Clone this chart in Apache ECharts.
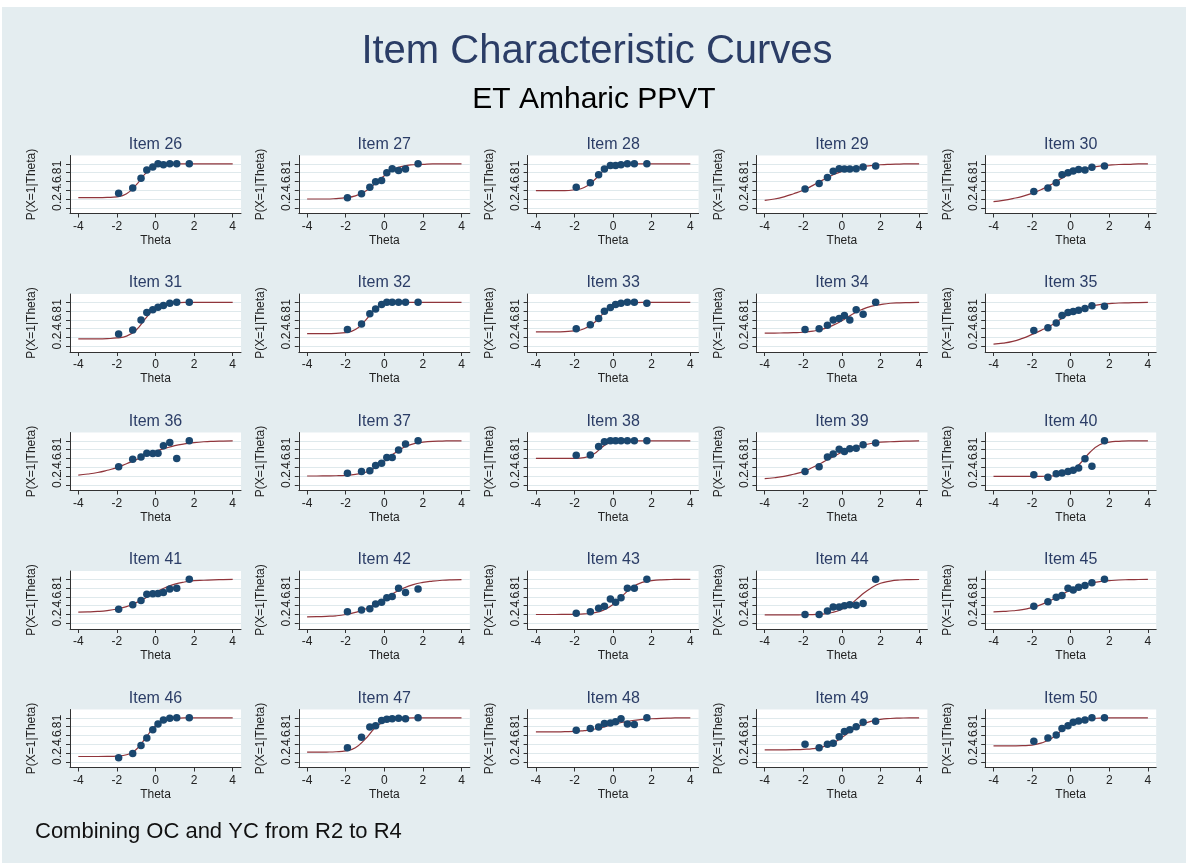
<!DOCTYPE html>
<html>
<head>
<meta charset="utf-8">
<title>Item Characteristic Curves</title>
<script src="https://cdn.jsdelivr.net/npm/echarts@6/dist/echarts.min.js"></script>
<style>
  html, body { margin: 0; padding: 0; background: #fff; }
  #chart { width: 1186px; height: 863px; }
</style>
</head>
<body>
<div id="chart"></div>
<script>
// theta grid for the fitted curves, and the theta group means for the observed points
const thetaGrid = [-4, -3.5, -3, -2.5, -2, -1.5, -1, -0.5, 0, 0.5, 1, 1.5, 2, 2.5, 3, 3.5, 4];
const thetaObs = [-1.91, -1.18, -0.75, -0.45, -0.14, 0.13, 0.41, 0.74, 1.1, 1.75];
const xTicks = [-4, -2, 0, 2, 4];
const yTicks = [0, 0.2, 0.4, 0.6, 0.8, 1];

const icc26 = [0.23,0.23,0.23,0.235,0.25,0.32,0.52,0.79,0.94,0.99,1,1,1,1,1,1,1];
const obs26 = [0.33,0.45,0.67,0.86,0.93,1.0,0.98,1.0,1.0,1.0];
const icc27 = [0.2,0.2,0.2,0.21,0.23,0.27,0.37,0.54,0.73,0.88,0.95,0.98,0.99,1,1,1,1];
const obs27 = [0.23,0.32,0.47,0.59,0.62,0.80,0.89,0.85,0.88,1.0];
const icc28 = [0.39,0.39,0.39,0.39,0.41,0.46,0.62,0.84,0.95,0.99,1,1,1,1,1,1,1];
const obs28 = [0.47,0.57,0.75,0.88,0.96,0.96,0.98,1.0,1.0,1.0];
const icc29 = [0.17,0.20,0.25,0.32,0.40,0.51,0.63,0.74,0.83,0.89,0.93,0.96,0.98,0.99,0.995,1,1];
const obs29 = [0.43,0.55,0.69,0.83,0.89,0.88,0.88,0.89,0.93,0.95];
const icc30 = [0.14,0.17,0.21,0.26,0.33,0.42,0.53,0.66,0.78,0.86,0.91,0.95,0.97,0.985,0.99,1,1];
const obs30 = [0.37,0.45,0.57,0.75,0.80,0.84,0.87,0.86,0.92,0.95];
const icc31 = [0.17,0.17,0.17,0.175,0.19,0.23,0.37,0.64,0.87,0.96,0.99,1,1,1,1,1,1];
const obs31 = [0.28,0.37,0.60,0.77,0.83,0.89,0.93,0.98,1.0,1.0];
const icc32 = [0.29,0.29,0.29,0.295,0.31,0.38,0.58,0.83,0.96,0.99,1,1,1,1,1,1,1];
const obs32 = [0.38,0.51,0.74,0.85,0.95,1.0,1.0,1.0,1.0,1.0];
const icc33 = [0.33,0.33,0.33,0.335,0.35,0.40,0.53,0.75,0.91,0.97,0.99,1,1,1,1,1,1];
const obs33 = [0.40,0.49,0.63,0.80,0.88,0.95,0.98,1.0,1.0,0.98];
const icc34 = [0.30,0.30,0.305,0.31,0.32,0.345,0.39,0.47,0.58,0.72,0.83,0.91,0.95,0.98,0.99,0.995,1];
const obs34 = [0.38,0.40,0.48,0.60,0.63,0.70,0.60,0.83,0.73,1.0];
const icc35 = [0.05,0.07,0.11,0.18,0.27,0.37,0.48,0.62,0.75,0.85,0.91,0.95,0.97,0.985,0.99,0.995,1];
const obs35 = [0.36,0.42,0.53,0.70,0.77,0.79,0.82,0.86,0.92,0.91];
const icc36 = [0.22,0.245,0.28,0.33,0.39,0.48,0.57,0.67,0.76,0.83,0.89,0.93,0.96,0.98,0.99,0.995,1];
const obs36 = [0.41,0.58,0.63,0.72,0.71,0.72,0.89,0.96,0.60,1.0];
const icc37 = [0.2,0.2,0.203,0.206,0.215,0.237,0.28,0.38,0.53,0.71,0.85,0.93,0.97,0.99,0.995,1,1];
const obs37 = [0.26,0.30,0.32,0.44,0.49,0.62,0.62,0.79,0.93,1.0];
const icc38 = [0.6,0.6,0.6,0.6,0.602,0.617,0.70,0.88,0.98,1,1,1,1,1,1,1,1];
const obs38 = [0.67,0.68,0.87,0.98,1.0,1.0,1.0,1.0,1.0,1.0];
const icc39 = [0.14,0.16,0.19,0.24,0.30,0.40,0.51,0.63,0.74,0.83,0.89,0.94,0.97,0.98,0.99,0.995,1];
const obs39 = [0.30,0.41,0.63,0.70,0.81,0.76,0.82,0.83,0.91,0.95];
const icc40 = [0.19,0.19,0.19,0.19,0.19,0.193,0.20,0.22,0.30,0.49,0.74,0.91,0.97,0.99,1,1,1];
const obs40 = [0.23,0.17,0.25,0.27,0.30,0.33,0.38,0.59,0.42,1.0];
const icc41 = [0.256,0.26,0.27,0.29,0.325,0.38,0.47,0.58,0.71,0.81,0.89,0.94,0.97,0.98,0.99,0.995,1];
const obs41 = [0.32,0.42,0.52,0.66,0.67,0.68,0.70,0.78,0.80,1.0];
const icc42 = [0.146,0.15,0.158,0.17,0.20,0.25,0.32,0.43,0.555,0.69,0.80,0.88,0.93,0.96,0.98,0.99,0.994];
const obs42 = [0.26,0.30,0.33,0.44,0.48,0.58,0.61,0.80,0.70,0.78];
const icc43 = [0.2,0.2,0.2,0.202,0.205,0.213,0.237,0.30,0.43,0.63,0.82,0.93,0.97,0.99,0.996,1,1];
const obs43 = [0.23,0.26,0.34,0.39,0.55,0.48,0.58,0.80,0.80,1.0];
const icc44 = [0.19,0.19,0.19,0.191,0.194,0.199,0.21,0.245,0.32,0.45,0.64,0.80,0.91,0.96,0.985,0.994,0.997];
const obs44 = [0.20,0.20,0.28,0.37,0.37,0.40,0.42,0.41,0.45,1.0];
const icc45 = [0.26,0.27,0.285,0.31,0.36,0.43,0.53,0.645,0.76,0.85,0.91,0.95,0.97,0.985,0.992,0.996,1];
const obs45 = [0.39,0.49,0.59,0.63,0.80,0.76,0.82,0.86,0.92,1.0];
const icc46 = [0.12,0.12,0.12,0.122,0.13,0.16,0.28,0.55,0.82,0.95,0.99,1,1,1,1,1,1];
const obs46 = [0.09,0.19,0.37,0.54,0.73,0.86,0.95,0.99,1.0,1.0];
const icc47 = [0.22,0.22,0.222,0.228,0.25,0.32,0.51,0.76,0.92,0.98,0.995,1,1,1,1,1,1];
const obs47 = [0.32,0.56,0.79,0.82,0.94,0.97,0.98,0.99,0.98,1.0];
const icc48 = [0.68,0.68,0.68,0.685,0.69,0.71,0.74,0.79,0.85,0.90,0.94,0.965,0.98,0.99,0.995,1,1];
const obs48 = [0.72,0.76,0.79,0.87,0.88,0.91,0.98,0.86,0.85,1.0];
const icc49 = [0.27,0.27,0.272,0.276,0.283,0.30,0.34,0.42,0.55,0.71,0.84,0.92,0.966,0.985,0.994,1,1];
const obs49 = [0.40,0.32,0.40,0.42,0.57,0.69,0.73,0.80,0.90,0.92];
const icc50 = [0.36,0.36,0.362,0.367,0.38,0.43,0.53,0.70,0.86,0.95,0.98,0.994,1,1,1,1,1];
const obs50 = [0.47,0.54,0.61,0.76,0.82,0.90,0.93,0.95,1.0,1.0];

const items = [
  [26, icc26, obs26], [27, icc27, obs27], [28, icc28, obs28], [29, icc29, obs29], [30, icc30, obs30],
  [31, icc31, obs31], [32, icc32, obs32], [33, icc33, obs33], [34, icc34, obs34], [35, icc35, obs35],
  [36, icc36, obs36], [37, icc37, obs37], [38, icc38, obs38], [39, icc39, obs39], [40, icc40, obs40],
  [41, icc41, obs41], [42, icc42, obs42], [43, icc43, obs43], [44, icc44, obs44], [45, icc45, obs45],
  [46, icc46, obs46], [47, icc47, obs47], [48, icc48, obs48], [49, icc49, obs49], [50, icc50, obs50]
];

const FONT = '"Liberation Sans", Arial, Helvetica, sans-serif';
const navy = '#1a476f';
const maroon = '#90353b';
const bg = '#e4edf0';

const plotW = 171, plotH = 58;
const colLeft = i => 70 + i * 228.8;
const rowTop = j => 155.5 + j * 138.5;

const grid = [], xAxis = [], yAxis = [], series = [];
const graphic = [
  { type: 'rect', shape: { x: 0, y: 0, width: 1186, height: 7 }, style: { fill: '#fff' } },
  { type: 'rect', shape: { x: 0, y: 0, width: 2, height: 863 }, style: { fill: '#fff' } },
  { type: 'text', x: 597, y: 52, style: { text: 'Item Characteristic Curves', font: '40px ' + FONT, fill: '#2b3d66', textAlign: 'center', textVerticalAlign: 'middle' } },
  { type: 'text', x: 594, y: 100, style: { text: 'ET Amharic PPVT', font: '30px ' + FONT, fill: '#000', textAlign: 'center', textVerticalAlign: 'middle' } },
  { type: 'text', x: 35, y: 832, style: { text: 'Combining OC and YC from R2 to R4', font: '22px ' + FONT, fill: '#111', textAlign: 'left', textVerticalAlign: 'middle' } }
];

const yFmt = v => (v === 0 ? '0' : v === 1 ? '1' : String(+v.toFixed(1)).replace('0.', '.'));

items.forEach(([num, icc, obs], k) => {
  const c = k % 5, r = Math.floor(k / 5);
  const left = colLeft(c), top = rowTop(r);
  grid.push({ left: left, top: top, width: plotW, height: plotH, show: true, backgroundColor: '#fff', borderWidth: 0 });
  xAxis.push({
    gridIndex: k, type: 'value', min: -4.43, max: 4.43, position: 'bottom',
    name: 'Theta', nameLocation: 'middle', nameGap: 21,
    nameTextStyle: { fontFamily: FONT, fontSize: 12, color: '#222' },
    axisLine: { show: true, onZero: false, lineStyle: { color: '#333', width: 1 } },
    axisTick: { show: true, length: 4, customValues: xTicks, lineStyle: { color: '#333' } },
    axisLabel: { customValues: xTicks, fontFamily: FONT, fontSize: 12, color: '#222', margin: 7 },
    splitLine: { show: false }
  });
  yAxis.push({
    gridIndex: k, type: 'value', min: -0.13, max: 1.19, position: 'left',
    name: 'P(X=1|Theta)', nameLocation: 'middle', nameGap: 32, nameRotate: 90,
    nameTextStyle: { fontFamily: FONT, fontSize: 12, color: '#222' },
    axisLine: { show: true, onZero: false, lineStyle: { color: '#333', width: 1 } },
    axisTick: { show: true, length: 4, customValues: yTicks, lineStyle: { color: '#333' } },
    axisLabel: { customValues: yTicks, rotate: 90, formatter: yFmt, fontFamily: FONT, fontSize: 12, color: '#222', margin: 6 },
    splitLine: { show: true, customValues: yTicks, lineStyle: { color: '#dfe9ec', width: 1.2 } }
  });
  series.push({
    type: 'line', xAxisIndex: k, yAxisIndex: k, z: 3,
    data: thetaGrid.map((t, i) => [t, icc[i]]),
    showSymbol: false, smooth: 0.5,
    lineStyle: { color: maroon, width: 1.2 }, silent: true
  });
  series.push({
    type: 'scatter', xAxisIndex: k, yAxisIndex: k, z: 4,
    data: thetaObs.map((t, i) => [t, obs[i]]),
    symbolSize: 7.5, itemStyle: { color: navy, opacity: 1 }, silent: true
  });
  graphic.push({
    type: 'text', x: left + plotW / 2, y: top - 11,
    style: { text: 'Item ' + num, font: '16px ' + FONT, fill: '#2b3d66', textAlign: 'center', textVerticalAlign: 'middle' }
  });
});

const chart = echarts.init(document.getElementById('chart'));
chart.setOption({
  animation: false,
  backgroundColor: bg,
  grid: grid,
  xAxis: xAxis,
  yAxis: yAxis,
  series: series,
  graphic: graphic
});
</script>
</body>
</html>
